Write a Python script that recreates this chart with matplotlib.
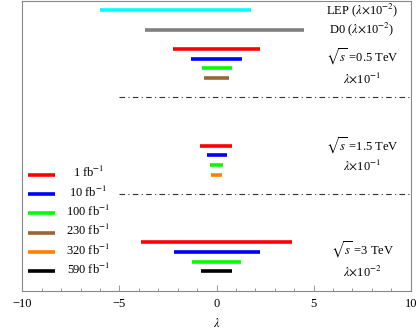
import matplotlib
matplotlib.use('Agg')
import matplotlib.pyplot as plt
from matplotlib.ticker import MultipleLocator

# bars: (low, high) limits on lambda, row position from the top
lep = [-6.0, 1.8]
d0 = [-3.7, 4.5]

lum_labels = ['1 fb$^{-1}$', '10 fb$^{-1}$', '100 fb$^{-1}$',
              '230 fb$^{-1}$', '320 fb$^{-1}$', '590 fb$^{-1}$']
lum_colors = ['#ff0000', '#0000ff', '#00ff00', '#996633', '#ff8000', '#000000']

# sqrt(s) = 0.5 TeV (lambda x 10^-1): 1, 10, 100, 230 fb^-1
low_05 = [-2.23, -1.30, -0.75, -0.64]
high_05 = [2.23, 1.30, 0.78, 0.66]
lum_05 = [0, 1, 2, 3]

# sqrt(s) = 1.5 TeV (lambda x 10^-1): 1, 10, 100, 320 fb^-1
low_15 = [-0.83, -0.51, -0.34, -0.28]
high_15 = [0.82, 0.53, 0.34, 0.28]
lum_15 = [0, 1, 2, 4]

# sqrt(s) = 3 TeV (lambda x 10^-2): 1, 10, 100, 590 fb^-1
low_3 = [-3.88, -2.21, -1.25, -0.80]
high_3 = [3.89, 2.23, 1.26, 0.81]
lum_3 = [0, 1, 2, 5]

plt.rcParams['font.family'] = ['Liberation Serif', 'DejaVu Serif']
plt.rcParams['mathtext.fontset'] = 'stix'
plt.rcParams['font.size'] = 9

fig = plt.figure(figsize=(4.17, 3.32), dpi=100)
ax = fig.add_axes([22.3 / 417, 1 - 290.7 / 332, (410.7 - 22.3) / 417, (290.7 - 0.5) / 332])

lw = 2.6
ax.plot(lep, [1, 1], color='#00ffff', lw=lw, solid_capstyle='butt')
ax.plot(d0, [3, 3], color='#808080', lw=lw, solid_capstyle='butt')

for i in range(4):
    ax.plot([low_05[i], high_05[i]], [5 + i, 5 + i], color=lum_colors[lum_05[i]], lw=lw, solid_capstyle='butt')
    ax.plot([low_15[i], high_15[i]], [15 + i, 15 + i], color=lum_colors[lum_15[i]], lw=lw, solid_capstyle='butt')
    ax.plot([low_3[i], high_3[i]], [25 + i, 25 + i], color=lum_colors[lum_3[i]], lw=lw, solid_capstyle='butt')

# separators
ax.plot([-5, 10], [10, 10], color='#333333', lw=0.8, ls=(0, (5, 3, 1, 3)))
ax.plot([-5, 10], [20, 20], color='#333333', lw=0.8, ls=(0, (5, 3, 1, 3)))

# legend drawn by hand on the left
for i in range(6):
    ax.plot([-9.7, -8.3], [18 + 2 * i, 18 + 2 * i], color=lum_colors[i], lw=lw, solid_capstyle='butt')
    ax.text(-6.6, 18 + 2 * i - 0.2, lum_labels[i], ha='center', va='center')

tx = 7.5
ax.text(tx, 1, r'LEP ($\lambda$$\times$10$^{-2}$)', ha='center', va='center')
ax.text(tx, 3, r'D0 ($\lambda$$\times$10$^{-2}$)', ha='center', va='center')
ax.text(tx, 5.8, r'$\sqrt{s}$ =0.5 TeV', ha='center', va='center')
ax.text(tx, 8, r'$\lambda$$\times$10$^{-1}$', ha='center', va='center')
ax.text(tx, 15, r'$\sqrt{s}$ =1.5 TeV', ha='center', va='center')
ax.text(tx, 17, r'$\lambda$$\times$10$^{-1}$', ha='center', va='center')
ax.text(tx, 25.8, r'$\sqrt{s}$ =3 TeV', ha='center', va='center')
ax.text(tx, 28, r'$\lambda$$\times$10$^{-2}$', ha='center', va='center')

ax.set_xlim(-10, 10)
ax.set_ylim(30, 0)
ax.set_yticks([])
ax.xaxis.set_minor_locator(MultipleLocator(1))
ax.tick_params(axis='x', which='major', direction='in', length=4, color='#888888', width=0.6, pad=5)
ax.tick_params(axis='x', which='minor', direction='in', length=2, color='#888888', width=0.6)
ax.set_xticks([-10, -5, 0, 5, 10])
ax.set_xticklabels(['\u221210', '\u22125', '0', '5', '10'])
for s in ax.spines.values():
    s.set_color('#888888')
    s.set_linewidth(0.8)
ax.set_xlabel(r'$\lambda$', labelpad=5)

fig.savefig('out.png', dpi=100)
